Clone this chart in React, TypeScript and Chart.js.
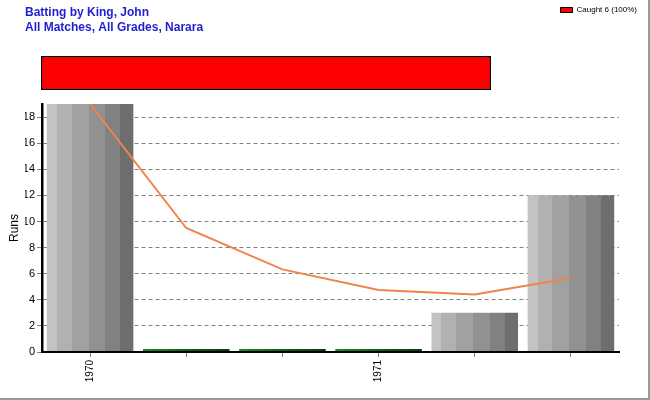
import React, { useEffect, useRef } from 'react';
import { Chart, registerables } from 'chart.js';

Chart.register(...registerables);

// ---- data ----
const titleLines = ['Batting by King, John', 'All Matches, All Grades, Narara'];
const inningsLabels = ['1970', '', '', '1971', '', ''];
const runs = [19, 0, 0, 0, 3, 12];
const runningAverage = [19, 9.5, 6.33, 4.75, 4.4, 5.67];
const yAxisTitle = 'Runs';
const yMin = 0;
const yMax = 19;
const yStep = 2;
const dismissalTypes = ['Caught'];
const dismissalCounts = [6];
const dismissalColors = ['#ff0000'];

// ---- styles ----
const W = 648;
const H = 398;
const BAR_PCT = 0.9;
const NARROW = "'Liberation Sans Narrow', Arial, sans-serif";
const greyBands: [number, string][] = [
  [0.0, '#c3c3c3'],
  [0.115, '#b1b1b1'],
  [0.287, '#a1a1a1'],
  [0.483, '#919191'],
  [0.678, '#818181'],
  [0.85, '#6e6e6e'],
];

function barFill(c: any) {
  const chart = c.chart;
  if (!chart.chartArea || c.type !== 'data') return '#999999';
  const xs = chart.scales.x;
  const cx = xs.getPixelForValue(c.dataIndex);
  const half = (xs.width / inningsLabels.length) * BAR_PCT / 2;
  const g = chart.ctx.createLinearGradient(cx - half, 0, cx + half, 0);
  const v = c.raw;
  if (v === 0) {
    g.addColorStop(0, '#168c22');
    g.addColorStop(1, '#083808');
  } else {
    greyBands.forEach(([pos, col], i) => {
      const end = i + 1 < greyBands.length ? greyBands[i + 1][0] : 1;
      g.addColorStop(pos, col);
      g.addColorStop(Math.max(pos, end - 0.0001), col);
    });
  }
  return g;
}

export default function App() {
  const mainRef = useRef<HTMLCanvasElement>(null);
  const headRef = useRef<HTMLCanvasElement>(null);

  useEffect(() => {
    const main = new Chart(mainRef.current as HTMLCanvasElement, {
      type: 'bar',
      data: {
        labels: inningsLabels,
        datasets: [
          {
            type: 'line',
            label: 'Average',
            data: runningAverage,
            borderColor: '#f0844a',
            borderWidth: 2,
            pointRadius: 0,
            tension: 0,
            fill: false,
            order: 0,
          } as any,
          {
            type: 'bar',
            label: 'Runs',
            data: runs,
            backgroundColor: barFill,
            borderWidth: 0,
            barPercentage: BAR_PCT,
            categoryPercentage: 1,
            minBarLength: 3,
            order: 1,
          } as any,
        ],
      },
      options: {
        responsive: false,
        animation: false,
        layout: { padding: { left: 25, right: 29, top: 0, bottom: 0 } },
        plugins: {
          legend: { display: false },
          tooltip: { enabled: false },
          title: {
            display: true,
            text: titleLines,
            align: 'start',
            color: '#1e1ed2',
            font: { family: 'Arial', size: 12, weight: 'bold', lineHeight: 1.25 },
            padding: { top: 5, bottom: 69 },
          },
        },
        scales: {
          x: {
            offset: true,
            grid: {
              display: true,
              drawOnChartArea: false,
              drawTicks: true,
              tickLength: 5,
              tickColor: '#808080',
              tickBorderDash: [],
              offset: false,
            },
            border: { display: true, color: '#000', width: 2, z: 1 },
            ticks: {
              autoSkip: false,
              maxRotation: 90,
              minRotation: 90,
              padding: 3,
              color: '#000',
              font: { family: NARROW, size: 10 },
            },
            afterFit: (s: any) => {
              s.height = 46;
            },
          },
          y: {
            min: yMin,
            max: yMax,
            ticks: {
              stepSize: yStep,
              includeBounds: false,
              padding: 2,
              color: '#000',
              font: { family: NARROW, size: 11 },
            },
            grid: {
              color: '#808080',
              lineWidth: 1,
              tickLength: 5,
              tickColor: '#808080',
              tickBorderDash: [],
            },
            border: { display: true, color: '#000', width: 2.5, dash: [4, 3], z: 1 },
            title: {
              display: true,
              text: yAxisTitle,
              color: '#000',
              font: { family: 'Arial', size: 12 },
              padding: { top: -17.4, bottom: 0 },
            },
            afterFit: (s: any) => {
              s.width = 17;
            },
          },
        },
      } as any,
    });

    const total = dismissalCounts.reduce((a, b) => a + b, 0);
    const pct = dismissalCounts.map((n) => (n / total) * 100);

    const head = new Chart(headRef.current as HTMLCanvasElement, {
      type: 'bar',
      data: {
        labels: ['Dismissals'],
        datasets: dismissalTypes.map((t, i) => ({
          label: t,
          data: [pct[i]],
          backgroundColor: dismissalColors[i],
          borderColor: '#000',
          borderWidth: 1.5,
          borderSkipped: false,
          barPercentage: 1,
          categoryPercentage: 1,
        })),
      },
      options: {
        indexAxis: 'y',
        responsive: false,
        animation: false,
        layout: { padding: { left: 41, right: 5, top: 0, bottom: 5 } },
        plugins: {
          tooltip: { enabled: false },
          title: { display: false },
          legend: {
            display: true,
            position: 'top',
            align: 'end',
            labels: {
              boxWidth: 12,
              boxHeight: 5,
              padding: 6,
              color: '#333',
              font: { family: 'Arial', size: 8 },
              generateLabels: () =>
                dismissalTypes.map((t, i) => ({
                  text: `${t} ${dismissalCounts[i]} (${Math.round(pct[i])}%)`,
                  fillStyle: dismissalColors[i],
                  strokeStyle: '#000',
                  lineWidth: 1,
                  hidden: false,
                  datasetIndex: i,
                })),
            },
          },
        },
        scales: {
          x: {
            stacked: true,
            min: 0,
            max: 100,
            position: 'top',
            grid: { display: false },
            border: { display: false },
            ticks: { display: false },
            afterFit: (s: any) => {
              s.height = 32;
            },
          },
          y: {
            stacked: true,
            position: 'right',
            grid: { display: false },
            border: { display: false },
            ticks: { display: false },
            afterFit: (s: any) => {
              s.width = 152;
            },
          },
        },
      } as any,
    });

    return () => {
      main.destroy();
      head.destroy();
    };
  }, []);

  return (
    <div
      style={{
        position: 'absolute',
        left: 0,
        top: 0,
        width: 650,
        height: 400,
        background: '#fff',
        borderRight: '2px solid #9a9a9a',
        borderBottom: '2px solid #9a9a9a',
        boxSizing: 'border-box',
      }}
    >
      <canvas ref={mainRef} width={W} height={H} style={{ position: 'absolute', left: 0, top: 0, display: 'block' }} />
      <canvas ref={headRef} width={W} height={95} style={{ position: 'absolute', left: 0, top: 0, display: 'block' }} />
    </div>
  );
}
